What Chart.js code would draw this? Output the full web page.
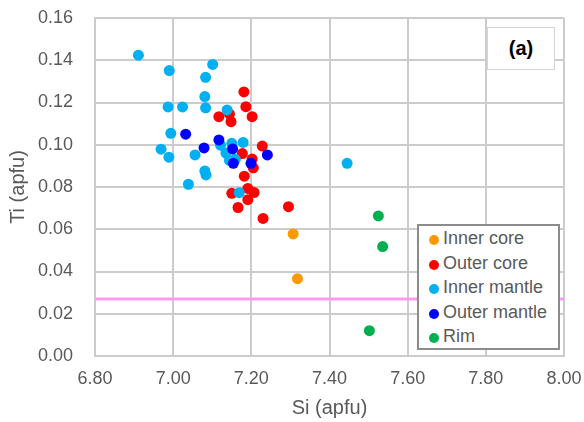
<!DOCTYPE html>
<html>
<head>
<meta charset="utf-8">
<script src="https://cdn.jsdelivr.net/npm/chart.js@4"></script>
<style>
  body { margin: 0; background: #fff; }
  #wrap { position: relative; width: 584px; height: 422px; }
  #legend {
    position: absolute; left: 417px; top: 224px; width: 143px; height: 126px;
    background: #fff; border: 2px solid #8c8c8c; box-sizing: border-box;
    font: 18px "Liberation Sans", Arial, sans-serif; color: #595959;
    padding-top: 0px;
  }
  #legend .item { height: 24.6px; line-height: 24.6px; white-space: nowrap; }
  #legend .dot {
    display: inline-block; width: 10px; height: 10px; border-radius: 50%;
    margin: 0 4px 0 10px; vertical-align: -1px;
  }
  #tag {
    position: absolute; left: 487px; top: 27px; width: 68px; height: 43px;
    background: #fff; border: 1px solid #d4d4d4; box-sizing: border-box;
    font: bold 20px "Liberation Sans", Arial, sans-serif; color: #000;
    text-align: center; line-height: 41px;
  }
</style>
</head>
<body>
<div id="wrap">
  <canvas id="chart" width="584" height="422"></canvas>
  <div id="legend"></div>
  <div id="tag">(a)</div>
</div>
<script>
// Dados: Si (apfu) x Ti (apfu)
const innerCoreSi = [7.307, 7.318];
const innerCoreTi = [0.0578, 0.0366];

const outerCoreSi = [7.181, 7.186, 7.202, 7.117, 7.144, 7.148, 7.228, 7.177, 7.202,
                     7.205, 7.182, 7.150, 7.191, 7.207, 7.191, 7.166, 7.295, 7.230];
const outerCoreTi = [0.1250, 0.1180, 0.1133, 0.1133, 0.1146, 0.1109, 0.0994, 0.0958, 0.0932,
                     0.0891, 0.0851, 0.0770, 0.0793, 0.0774, 0.0740, 0.0703, 0.0707, 0.0651];

const innerMantleSi = [6.911, 6.990, 6.987, 7.024, 6.994, 6.969, 6.989, 7.039, 7.101, 7.083,
                       7.081, 7.083, 7.138, 7.121, 7.150, 7.179, 7.056, 7.135, 7.144, 7.159,
                       7.081, 7.084, 7.169, 7.445];
const innerMantleTi = [0.1424, 0.1351, 0.1179, 0.1179, 0.1054, 0.0979, 0.0941, 0.0813, 0.1380, 0.1319,
                       0.1228, 0.1175, 0.1165, 0.0998, 0.1007, 0.1011, 0.0952, 0.0961, 0.0926, 0.0931,
                       0.0876, 0.0857, 0.0773, 0.0912];

const outerMantleSi = [7.032, 7.117, 7.079, 7.152, 7.241, 7.154, 7.199];
const outerMantleTi = [0.1050, 0.1023, 0.0985, 0.0980, 0.0952, 0.0912, 0.0912];

const rimSi = [7.525, 7.536, 7.502];
const rimTi = [0.0663, 0.0518, 0.0120];

// linha horizontal de referência
const refLineSi = [6.80, 8.00];
const refLineTi = [0.027, 0.027];

const xTicks = [6.8, 8.0, 0.2];   // min, max, passo
const yTicks = [0, 0.16, 0.02];

const seriesNames = ['Inner core', 'Outer core', 'Inner mantle', 'Outer mantle', 'Rim'];
const seriesColors = ['#ff9900', '#ff0000', '#00b0f0', '#0000ff', '#00b050'];

function toPoints(xs, ys) {
    return xs.map((x, i) => ({ x: x, y: ys[i] }));
}

const seriesData = [
    toPoints(innerCoreSi, innerCoreTi),
    toPoints(outerCoreSi, outerCoreTi),
    toPoints(innerMantleSi, innerMantleTi),
    toPoints(outerMantleSi, outerMantleTi),
    toPoints(rimSi, rimTi)
];

const textColor = '#595959';
const gridColor = '#cccccc';
const fontFamily = '"Liberation Sans", Arial, sans-serif';

// a primeira série fica por baixo (como no Excel)
const datasets = seriesNames.map((name, i) => ({
    type: 'scatter',
    label: name,
    data: seriesData[i],
    backgroundColor: seriesColors[i],
    borderColor: seriesColors[i],
    borderWidth: 0,
    pointRadius: 5.5,
    order: seriesNames.length - i
}));

datasets.push({
    type: 'line',
    label: 'ref',
    data: toPoints(refLineSi, refLineTi),
    borderColor: '#f79cf0',
    borderWidth: 3,
    pointRadius: 0,
    fill: false,
    order: 10
});

new Chart(document.getElementById('chart'), {
    data: { datasets: datasets },
    options: {
        responsive: false,
        animation: false,
        devicePixelRatio: 1,
        layout: { padding: { left: 0, top: 18, right: 20, bottom: 0 } },
        plugins: {
            legend: { display: false },
            tooltip: { enabled: false }
        },
        scales: {
            x: {
                type: 'linear',
                min: xTicks[0],
                max: xTicks[1],
                afterFit: function(scale) {
                    scale.height = 66;
                    scale.paddingLeft = 0;
                    scale.paddingRight = 0;
                },
                ticks: {
                    stepSize: xTicks[2],
                    padding: 12,
                    color: textColor,
                    font: { family: fontFamily, size: 18 },
                    callback: function(value) { return value.toFixed(2); }
                },
                grid: { color: gridColor, lineWidth: 2, drawTicks: false },
                border: { color: gridColor, width: 2 },
                title: {
                    display: true,
                    text: 'Si (apfu)',
                    color: textColor,
                    font: { family: fontFamily, size: 20 },
                    padding: { top: 0, bottom: 2 }
                }
            },
            y: {
                type: 'linear',
                min: yTicks[0],
                max: yTicks[1],
                afterFit: function(scale) {
                    scale.width = 95;
                    scale.paddingTop = 0;
                    scale.paddingBottom = 0;
                },
                ticks: {
                    stepSize: yTicks[2],
                    padding: 22,
                    color: textColor,
                    font: { family: fontFamily, size: 18 },
                    callback: function(value) { return value.toFixed(2); }
                },
                grid: { color: gridColor, lineWidth: 2, drawTicks: false },
                border: { color: gridColor, width: 2 },
                title: {
                    display: true,
                    text: 'Ti (apfu)',
                    color: textColor,
                    font: { family: fontFamily, size: 20 },
                    padding: { top: 6, bottom: 0 }
                }
            }
        }
    }
});

// Legenda em HTML (dentro da área do gráfico)
const legendEl = document.getElementById('legend');
seriesNames.forEach((name, i) => {
    const item = document.createElement('div');
    item.className = 'item';
    const dot = document.createElement('span');
    dot.className = 'dot';
    dot.style.background = seriesColors[i];
    item.appendChild(dot);
    item.appendChild(document.createTextNode(name));
    legendEl.appendChild(item);
});
</script>
</body>
</html>
